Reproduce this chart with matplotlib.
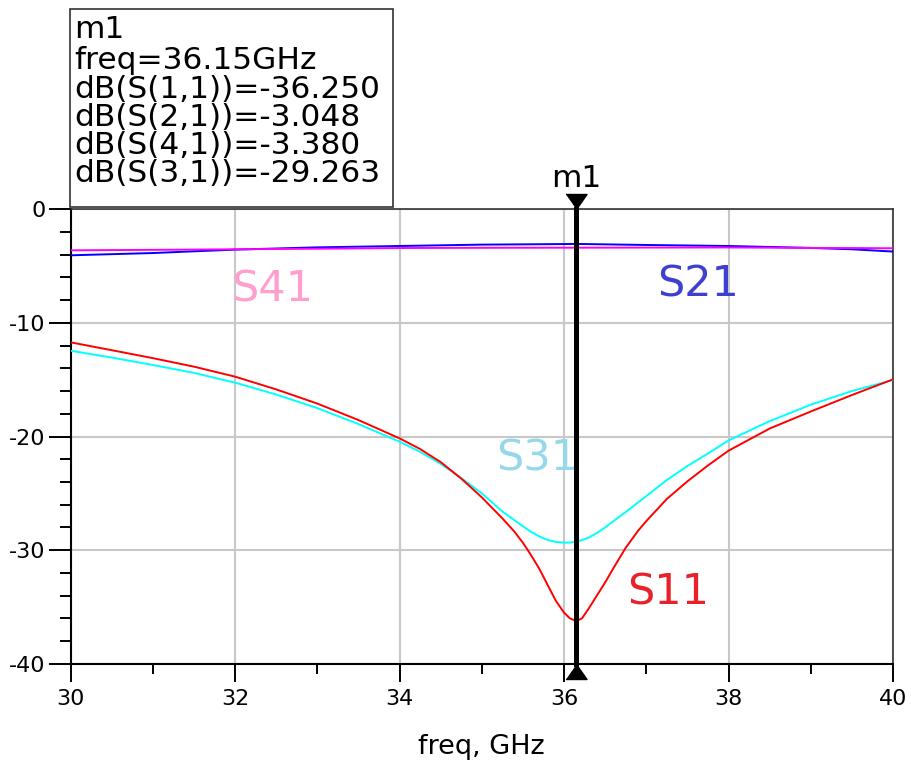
import matplotlib
matplotlib.use("Agg")
import matplotlib.pyplot as plt
from matplotlib.patches import Rectangle
from matplotlib.ticker import MultipleLocator

# ---- data (freq in GHz, values in dB) ----
freq_s11 = [30.0, 30.5, 31.0, 31.5, 32.0, 32.5, 33.0, 33.5, 34.0, 34.25, 34.5,
            34.75, 35.0, 35.25, 35.4, 35.5, 35.6, 35.7, 35.8, 35.9, 36.0, 36.07,
            36.15, 36.22, 36.3, 36.4, 36.5, 36.6, 36.75, 36.9, 37.0, 37.25, 37.5,
            37.75, 38.0, 38.5, 39.0, 39.5, 40.0]
s11_db = [-11.71, -12.40, -13.10, -13.85, -14.73, -15.85, -17.10, -18.55, -20.16, -21.10, -22.25,
          -23.70, -25.35, -27.20, -28.40, -29.35, -30.45, -31.65, -33.05, -34.45, -35.50, -36.00,
          -36.25, -36.00, -35.15, -34.00, -32.85, -31.60, -29.80, -28.30, -27.45, -25.50, -23.95,
          -22.55, -21.25, -19.30, -17.80, -16.35, -14.97]

freq_s31 = [30.0, 30.5, 31.0, 31.5, 32.0, 32.5, 33.0, 33.5, 34.0, 34.25, 34.5,
            34.75, 35.0, 35.25, 35.5, 35.6, 35.7, 35.8, 35.9, 36.0, 36.08, 36.15,
            36.22, 36.3, 36.4, 36.5, 36.6, 36.75, 37.0, 37.25, 37.5, 37.75, 38.0,
            38.5, 39.0, 39.5, 40.0]
s31_db = [-12.45, -13.05, -13.70, -14.40, -15.26, -16.30, -17.50, -18.90, -20.45, -21.35, -22.40,
          -23.65, -25.00, -26.60, -27.90, -28.40, -28.80, -29.10, -29.28, -29.35, -29.33, -29.26,
          -29.12, -28.90, -28.50, -28.00, -27.45, -26.65, -25.25, -23.83, -22.60, -21.50, -20.35,
          -18.65, -17.20, -16.00, -15.03]

freq_thru = [30.0, 31.0, 32.0, 33.0, 34.0, 35.0, 36.0, 36.15, 37.0, 38.0, 39.0, 39.5, 40.0]
s21_db = [-4.05, -3.85, -3.55, -3.35, -3.23, -3.11, -3.06, -3.048, -3.14, -3.23, -3.40, -3.52, -3.72]
s41_db = [-3.61, -3.57, -3.52, -3.47, -3.41, -3.39, -3.38, -3.38, -3.37, -3.36, -3.40, -3.41, -3.43]

marker_freq = 36.15
marker_names = ["dB(S(1,1))", "dB(S(2,1))", "dB(S(4,1))", "dB(S(3,1))"]
marker_vals = [-36.250, -3.048, -3.380, -29.263]

plt.rcParams["font.family"] = ["DejaVu Sans"]
plt.rcParams["axes.unicode_minus"] = False

W, H = 911, 760
fig = plt.figure(figsize=(W / 100, H / 100), dpi=100)

# plot area in pixels: left 70.5, right 893, top 209.3, bottom 663.7
ax = fig.add_axes([70.5 / W, 1 - 663.7 / H, (893 - 70.5) / W, (663.7 - 209.3) / H])

ax.plot(freq_thru, s21_db, color="#0000FF", lw=1.4, zorder=3)
ax.plot(freq_thru, s41_db, color="#FF00FF", lw=1.4, zorder=3)
ax.plot(freq_s31, s31_db, color="#00FFFF", lw=1.4, zorder=3)
ax.plot(freq_s11, s11_db, color="#FF0000", lw=1.4, zorder=4)

ax.set_xlim(30, 40)
ax.set_ylim(-40, 0)
ax.xaxis.set_major_locator(MultipleLocator(2))
ax.xaxis.set_minor_locator(MultipleLocator(1))
ax.yaxis.set_major_locator(MultipleLocator(10))
ax.yaxis.set_minor_locator(MultipleLocator(2))
ax.grid(True, which="major", color="#C8C8C8", lw=1.5, zorder=0)

ax.tick_params(axis="y", which="major", direction="out", length=16, width=1.4, pad=2, labelsize=16)
ax.tick_params(axis="y", which="minor", direction="out", length=8, width=1.4)
ax.tick_params(axis="x", which="major", direction="out", length=13, width=1.4, pad=5, labelsize=16)
ax.tick_params(axis="x", which="minor", direction="out", length=7, width=1.4)

for side in ["left", "bottom"]:
    ax.spines[side].set_linewidth(1.5)
    ax.spines[side].set_color("black")
for side in ["top", "right"]:
    ax.spines[side].set_linewidth(1.2)
    ax.spines[side].set_color("#333333")

ax.set_xlabel("freq, GHz", fontsize=19.5, labelpad=18)

# trace labels
labels = [("S41", 32.45, -7.1, "#FF9ECF"),
          ("S21", 37.63, -6.66, "#3F3FD0"),
          ("S31", 35.67, -21.9, "#96D8EA"),
          ("S11", 37.26, -33.7, "#E8222A")]
for txt, lx, ly, col in labels:
    ax.text(lx, ly, txt, color=col, fontsize=31, ha="center", va="center", zorder=5)

# marker m1
ax.plot([marker_freq, marker_freq], [-40, 0], color="black", lw=3.6, zorder=6, clip_on=False)
ax.plot([marker_freq], [0], marker=[(-0.7, 1), (0.7, 1), (0, 0)], ms=21.6,
        color="black", clip_on=False, zorder=7)
ax.plot([marker_freq], [-40], marker=[(-0.7, -1), (0.7, -1), (0, 0)], ms=21.6,
        color="black", clip_on=False, zorder=7)
ax.annotate("m1", xy=(marker_freq, 0), xytext=(0, 16), textcoords="offset points",
            ha="center", va="baseline", fontsize=22.5, annotation_clip=False)

# marker readout box
fig.patches.append(Rectangle((70 / W, 1 - 207 / H), (393 - 70) / W, (207 - 9) / H,
                             transform=fig.transFigure, facecolor="white",
                             edgecolor="#333333", lw=1.2, zorder=10))
lines = ["m1", "freq=%.2fGHz" % marker_freq]
lines += ["%s=%.3f" % (n, v) for n, v in zip(marker_names, marker_vals)]
baselines = [38, 69, 98, 126, 154, 182]
for t, yb in zip(lines, baselines):
    fig.text(74 / W, 1 - yb / H, t, fontsize=22.5, ha="left", va="baseline", zorder=11)

fig.savefig("out.png", dpi=100)
